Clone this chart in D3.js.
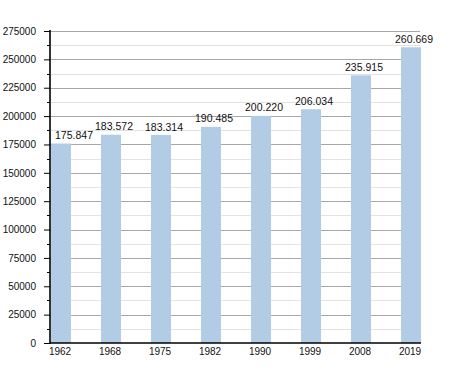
<!DOCTYPE html>
<html><head><meta charset="utf-8">
<script src="https://cdn.jsdelivr.net/npm/d3@7/dist/d3.min.js"></script>
<style>
html,body{margin:0;padding:0;background:#fff;}
svg{display:block;font-family:"Liberation Sans",Arial,sans-serif;}
</style></head>
<body>
<svg id="chart" width="450" height="373"></svg>
<script>
const years = ["1962","1968","1975","1982","1990","1999","2008","2019"];
const population = [175847,183572,183314,190485,200220,206034,235915,260669];
const valueLabels = ["175.847","183.572","183.314","190.485","200.220","206.034","235.915","260.669"];
const yTicks = [0,25000,50000,75000,100000,125000,150000,175000,200000,225000,250000,275000];

const svg = d3.select("#chart");
const axisX = 50, plotRight = 421, y0 = 343, yTop = 31;

const x = d3.scaleBand().domain(years).range([51, 421]).paddingInner(0.6).paddingOuter(0);
const y = d3.scaleLinear().domain([0, 275000]).range([y0, yTop]);

const minorTicks = d3.range(12500, 275000, 25000);

// minor grid
svg.append("g").selectAll("line").data(minorTicks).join("line")
  .attr("x1", axisX).attr("x2", plotRight - 1)
  .attr("y1", d => Math.round(y(d)) + 0.5).attr("y2", d => Math.round(y(d)) + 0.5)
  .attr("stroke", "#e2e2e2").attr("stroke-width", 1);
// major grid
svg.append("g").selectAll("line").data(yTicks.filter(d => d > 0)).join("line")
  .attr("x1", axisX).attr("x2", plotRight - 1)
  .attr("y1", d => Math.round(y(d)) + 0.5).attr("y2", d => Math.round(y(d)) + 0.5)
  .attr("stroke", "#a8a8a8").attr("stroke-width", 1);

// bars
svg.append("g").selectAll("rect").data(years).join("rect")
  .attr("x", d => x(d)).attr("width", x.bandwidth())
  .attr("y", (d, i) => y(population[i]))
  .attr("height", (d, i) => y0 - y(population[i]))
  .attr("fill", "#b2cce5");

// y axis
const yAxis = d3.axisLeft(y).tickValues(yTicks).tickSize(6).tickPadding(8).tickFormat(d3.format("d"));
const gy = svg.append("g").attr("transform", `translate(${axisX},0)`).call(yAxis);
gy.select(".domain").remove();
gy.selectAll(".tick line").attr("stroke", "#000");
gy.selectAll(".tick text").attr("font-size", 10).attr("fill", "#111")
  .attr("font-family", "Liberation Sans, Arial, sans-serif");
// minor ticks
svg.append("g").selectAll("line").data(minorTicks).join("line")
  .attr("x1", axisX - 3).attr("x2", axisX)
  .attr("y1", d => Math.round(y(d)) + 0.5).attr("y2", d => Math.round(y(d)) + 0.5)
  .attr("stroke", "#000");

// axis lines
svg.append("line").attr("x1", axisX).attr("x2", axisX).attr("y1", yTop - 1).attr("y2", y0 + 1)
  .attr("stroke", "#000").attr("stroke-width", 1.6);
svg.append("line").attr("x1", axisX).attr("x2", plotRight).attr("y1", y0).attr("y2", y0)
  .attr("stroke", "#000").attr("stroke-width", 1.6);

// x axis labels
const xAxis = d3.axisBottom(x).tickSize(0).tickPadding(4);
const gx = svg.append("g").attr("transform", `translate(-1,${y0 + 1})`).call(xAxis);
gx.select(".domain").remove();
gx.selectAll(".tick text").attr("font-size", 10).attr("fill", "#111")
  .attr("font-family", "Liberation Sans, Arial, sans-serif");

// value labels
svg.append("g").selectAll("text").data(years).join("text")
  .attr("x", (d, i) => Math.max(x(d) + x.bandwidth() / 2 + 3, axisX + 24))
  .attr("y", (d, i) => y(population[i]) - 4.5)
  .attr("text-anchor", "middle").attr("font-size", 10.5).attr("fill", "#111")
  .text((d, i) => valueLabels[i]);
</script>
</body></html>
